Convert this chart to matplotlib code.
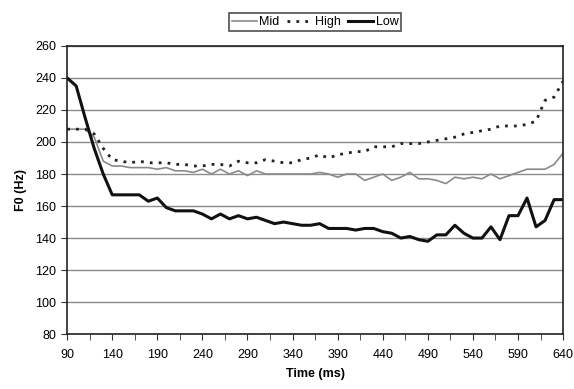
import matplotlib
matplotlib.use('Agg')
import matplotlib.pyplot as plt
from matplotlib.ticker import MultipleLocator
import numpy as np

plt.rcParams['font.family'] = ['Liberation Sans', 'DejaVu Sans']

# time axis (ms), one sample every 10 ms
time_ms = list(range(90, 641, 10))
x_ticks = list(range(90, 641, 50))

f0_mid = [208, 208, 208, 203, 188, 185, 185, 184, 184, 184,
          183, 184, 182, 182, 181, 183, 180, 183, 180, 182,
          179, 182, 180, 180, 180, 180, 180, 180, 181, 180,
          178, 180, 180, 176, 178, 180, 176, 178, 181, 177,
          177, 176, 174, 178, 177, 178, 177, 180, 177, 179,
          181, 183, 183, 183, 186, 193]

f0_high = [208, 208, 208, 205, 196, 189, 188, 187, 188, 187,
           187, 187, 186, 186, 185, 185, 186, 186, 185, 188,
           187, 187, 189, 188, 187, 187, 189, 190, 192, 190,
           192, 193, 194, 194, 197, 197, 197, 199, 199, 199,
           200, 201, 202, 203, 205, 206, 207, 208, 210, 210,
           210, 211, 213, 226, 228, 238]

f0_low = [240, 235, 215, 196, 180, 167, 167, 167, 167, 163,
          165, 159, 157, 157, 157, 155, 152, 155, 152, 154,
          152, 153, 151, 149, 150, 149, 148, 148, 149, 146,
          146, 146, 145, 146, 146, 144, 143, 140, 141, 139,
          138, 142, 142, 148, 143, 140, 140, 147, 139, 154,
          154, 165, 147, 151, 164, 164]

fig = plt.figure(figsize=(5.74, 3.89), dpi=100)
ax = fig.add_axes([0.117, 0.141, 0.864, 0.741])

ax.plot(time_ms, f0_mid, color='#8a8a8a', lw=1.2, label='Mid')
ax.plot(time_ms, f0_high, color='#222222', lw=2.0, linestyle=(0, (1, 2.2)),
        label='High')
ax.plot(time_ms, f0_low, color='#111111', lw=2.2, label='Low')

ax.set_xlim(90, 640)
ax.set_ylim(80, 260)
ax.set_xticks(x_ticks)
ax.set_xticks([t + 25 for t in x_ticks[:-1]], minor=True)
ax.yaxis.set_major_locator(MultipleLocator(20))
ax.grid(axis='y', color='#8c8c8c', lw=1.0)
ax.set_axisbelow(True)

for s in ax.spines.values():
    s.set_color('#222222')
    s.set_linewidth(1.2)

ax.tick_params(axis='both', which='major', labelsize=9, length=4,
               direction='out', color='#333333', pad=4)
ax.tick_params(axis='x', which='minor', length=4, direction='out',
               color='#333333')
ax.tick_params(axis='x', which='major', pad=7)

ax.set_xlabel('Time (ms)', fontsize=9, fontweight='bold', labelpad=5)
ax.set_ylabel('F0 (Hz)', fontsize=9, fontweight='bold', labelpad=6)

leg = ax.legend(loc='lower center', bbox_to_anchor=(0.5, 1.05), ncol=3,
                frameon=True, fancybox=False, fontsize=9, handlelength=2.0,
                handletextpad=0.2, columnspacing=0.6, borderpad=0.25,
                borderaxespad=0)
leg.get_frame().set_edgecolor('#222222')
leg.get_frame().set_linewidth(1.2)

plt.savefig('out.png', dpi=100)
